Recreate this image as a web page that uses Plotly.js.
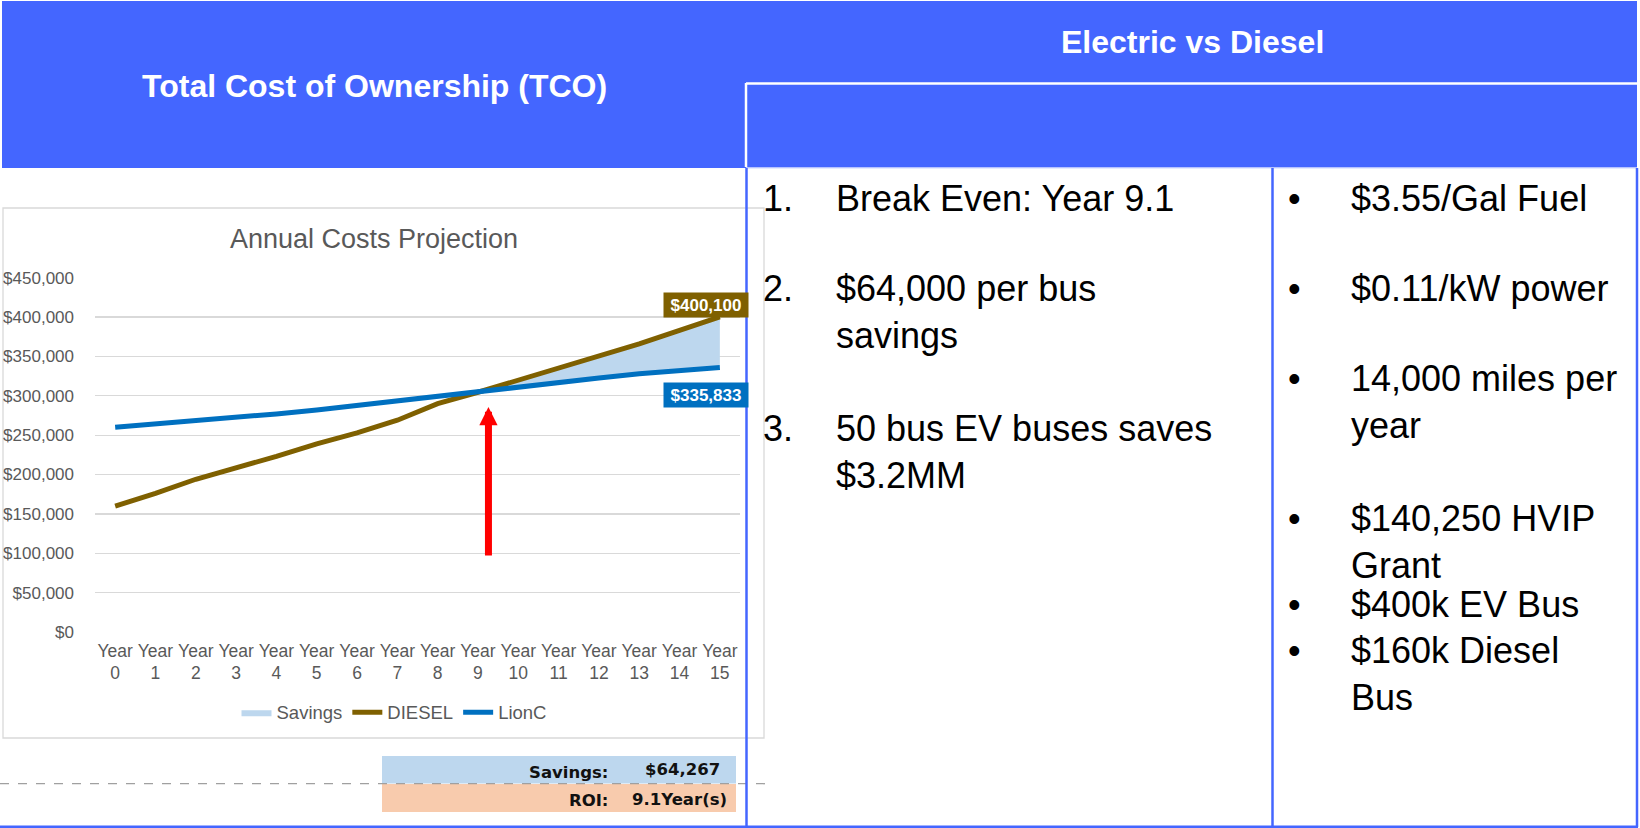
<!DOCTYPE html>
<html>
<head>
<meta charset="utf-8">
<script src="https://cdn.plot.ly/plotly-3.0.1.min.js"></script>
<style>
html,body{margin:0;padding:0;background:#ffffff;}
#chart{width:1640px;height:828px;}
</style>
</head>
<body>
<div id="chart"></div>
<script>
// ---------------- data ----------------
const years = ['Year 0','Year 1','Year 2','Year 3','Year 4','Year 5','Year 6','Year 7',
               'Year 8','Year 9','Year 10','Year 11','Year 12','Year 13','Year 14','Year 15'];
const diesel = [160000,176000,194000,208000,223000,239000,253000,269000,
                290000,304500,320000,336000,350000,366000,383000,400100];
const lionC  = [260000,264000,269000,273000,277000,282000,288000,293000,
                299000,305500,311000,316500,322500,328000,332000,335833];
const yTickValues = [0,50000,100000,150000,200000,250000,300000,350000,400000,450000];
const seriesNames = ['Savings','DIESEL','LionC'];
const chartTitle = 'Annual Costs Projection';
const leftHeader = 'Total Cost of Ownership (TCO)';
const rightHeader = 'Electric vs Diesel';
const roiYears = 9.1;
const numberedItems = ['Break Even: Year 9.1', '$64,000 per bus<br>savings', '50 bus EV buses saves<br>$3.2MM'];
const bulletItems = ['$3.55/Gal Fuel', '$0.11/kW power', '14,000 miles per<br>year',
                     '$140,250 HVIP<br>Grant', '$400k EV Bus', '$160k Diesel<br>Bus'];

// ---------------- helpers ----------------
const W = 1640, H = 828;
const X = p => p / W;
const Y = p => 1 - p / H;
const money = v => '$' + Math.round(v).toLocaleString('en-US');

const xIdx = years.map((_, i) => i);
const tickText = years.map(s => s.replace(' ', '<br>'));

// savings band: from last index where diesel <= lionC
let start = 0;
diesel.forEach((d, i) => { if (d <= lionC[i]) start = i; });
const sx = xIdx.slice(start);
const sLow = lionC.slice(start);
const sHigh = sx.map(i => Math.max(diesel[i], lionC[i]));
const last = years.length - 1;
const savingsValue = diesel[last] - lionC[last];

const BLUE = '#4466FF';
const FONT = 'Liberation Sans, Arial, sans-serif';
const GRAY = '#595959';

const traces = [
  {x: sx, y: sLow, type: 'scatter', mode: 'lines', line: {width: 0, color: '#BDD7EE'},
   showlegend: false, hoverinfo: 'skip'},
  {x: sx, y: sHigh, type: 'scatter', mode: 'lines', fill: 'tonexty', fillcolor: '#BDD7EE',
   line: {width: 0, color: '#BDD7EE'}, name: seriesNames[0]},
  {x: xIdx, y: diesel, type: 'scatter', mode: 'lines', name: seriesNames[1],
   line: {color: '#7F6000', width: 5}},
  {x: xIdx, y: lionC, type: 'scatter', mode: 'lines', name: seriesNames[2],
   line: {color: '#0070C0', width: 5}}
];

const shapes = [
  // header band
  {type: 'rect', xref: 'paper', yref: 'paper', x0: X(2), x1: X(1637), y0: Y(168), y1: Y(1),
   fillcolor: BLUE, line: {width: 0}, layer: 'below'},
  {type: 'line', xref: 'paper', yref: 'paper', x0: X(746), x1: X(1637), y0: Y(83.5), y1: Y(83.5),
   line: {color: '#ffffff', width: 2.5}},
  {type: 'line', xref: 'paper', yref: 'paper', x0: X(746), x1: X(746), y0: Y(83), y1: Y(167),
   line: {color: '#ffffff', width: 2.5}},
  {type: 'line', xref: 'paper', yref: 'paper', x0: X(746), x1: X(1637), y0: Y(168), y1: Y(168),
   line: {color: '#DCE3FF', width: 1.5}},
  // chart area border
  {type: 'rect', xref: 'paper', yref: 'paper', x0: X(3), x1: X(764), y0: Y(738), y1: Y(208),
   line: {color: '#D9D9D9', width: 1.3}, layer: 'below'},
  // savings / ROI boxes
  {type: 'rect', xref: 'paper', yref: 'paper', x0: X(382), x1: X(736), y0: Y(783.5), y1: Y(756),
   fillcolor: '#BDD7EE', line: {width: 0}},
  {type: 'rect', xref: 'paper', yref: 'paper', x0: X(382), x1: X(736), y0: Y(812), y1: Y(784),
   fillcolor: '#F8CBAD', line: {width: 0}},
  {type: 'line', xref: 'paper', yref: 'paper', x0: X(0), x1: X(770), y0: Y(783.7), y1: Y(783.7),
   line: {color: '#A0A0A0', width: 1.3, dash: 'dash'}},
  // table borders
  {type: 'line', xref: 'paper', yref: 'paper', x0: X(746.5), x1: X(746.5), y0: Y(168), y1: Y(827),
   line: {color: BLUE, width: 2.5}},
  {type: 'line', xref: 'paper', yref: 'paper', x0: X(1272.5), x1: X(1272.5), y0: Y(168), y1: Y(827),
   line: {color: BLUE, width: 2.5}},
  {type: 'line', xref: 'paper', yref: 'paper', x0: X(1637), x1: X(1637), y0: Y(168), y1: Y(827),
   line: {color: BLUE, width: 2.5}},
  {type: 'line', xref: 'paper', yref: 'paper', x0: X(0), x1: X(1638), y0: Y(826.7), y1: Y(826.7),
   line: {color: BLUE, width: 2.5}}
];

const annotations = [
  {xref: 'paper', yref: 'paper', x: X(374), y: Y(85.5), text: leftHeader, showarrow: false,
   font: {family: FONT, size: 32, color: '#ffffff', weight: 'bold'}, xanchor: 'center', yanchor: 'middle'},
  {xref: 'paper', yref: 'paper', x: X(1192), y: Y(42), text: rightHeader, showarrow: false,
   font: {family: FONT, size: 32, color: '#ffffff', weight: 'bold'}, xanchor: 'center', yanchor: 'middle'},
  // data labels
  {x: last, y: diesel[last], text: money(diesel[last]), showarrow: false, xshift: -14, yshift: 12.3,
   bgcolor: '#7F6000', borderpad: 2, width: 80, height: 20,
   font: {family: FONT, size: 17, color: '#ffffff', weight: 'bold'}},
  {x: last, y: lionC[last], text: money(lionC[last]), showarrow: false, xshift: -14, yshift: -27.7,
   bgcolor: '#0070C0', borderpad: 2, width: 80, height: 20,
   font: {family: FONT, size: 17, color: '#ffffff', weight: 'bold'}},
  // red arrow marking break-even
  {x: 9.26, y: 285700, ax: 0, ay: 150, text: '', showarrow: true, arrowhead: 2, arrowsize: 0.52,
   arrowwidth: 7, arrowcolor: '#FF0000'},
  // savings / roi text
  {xref: 'paper', yref: 'paper', x: X(610), y: Y(772), text: 'Savings:', showarrow: false,
   xanchor: 'right', yanchor: 'middle', font: {family: 'DejaVu Sans, sans-serif', size: 16.5, color: '#111', weight: 'bold'}},
  {xref: 'paper', yref: 'paper', x: X(722), y: Y(769.5), text: money(savingsValue), showarrow: false,
   xanchor: 'right', yanchor: 'middle', font: {family: 'DejaVu Sans, sans-serif', size: 16.5, color: '#111', weight: 'bold'}},
  {xref: 'paper', yref: 'paper', x: X(610), y: Y(800), text: 'ROI:', showarrow: false,
   xanchor: 'right', yanchor: 'middle', font: {family: 'DejaVu Sans, sans-serif', size: 16.5, color: '#111', weight: 'bold'}},
  {xref: 'paper', yref: 'paper', x: X(729), y: Y(799), text: roiYears + 'Year(s)', showarrow: false,
   xanchor: 'right', yanchor: 'middle', font: {family: 'DejaVu Sans, sans-serif', size: 16.5, color: '#111', weight: 'bold'}}
];

// right panel text
const numY = [198.7, 288.7, 428.8];
numberedItems.forEach((t, i) => {
  const lines = t.split('<br>').length;
  const cy = numY[i] + (lines - 1) * 23.4;
  annotations.push({xref: 'paper', yref: 'paper', x: X(761), y: Y(numY[i]), text: (i + 1) + '.',
    showarrow: false, xanchor: 'left', yanchor: 'middle', font: {family: FONT, size: 36, color: '#000'}});
  annotations.push({xref: 'paper', yref: 'paper', x: X(833.6), y: Y(cy), text: t, align: 'left',
    showarrow: false, xanchor: 'left', yanchor: 'middle', font: {family: FONT, size: 36, color: '#000'}});
});
const bulY = [198.7, 288.7, 378.6, 518.8, 604.5, 650.5];
bulletItems.forEach((t, i) => {
  const lines = t.split('<br>').length;
  const cy = bulY[i] + (lines - 1) * 23.4;
  annotations.push({xref: 'paper', yref: 'paper', x: X(1294), y: Y(bulY[i]), text: '•',
    showarrow: false, xanchor: 'center', yanchor: 'middle', font: {family: FONT, size: 36, color: '#000'}});
  annotations.push({xref: 'paper', yref: 'paper', x: X(1349), y: Y(cy), text: t, align: 'left',
    showarrow: false, xanchor: 'left', yanchor: 'middle', font: {family: FONT, size: 36, color: '#000'}});
});

const layout = {
  width: W, height: H,
  margin: {l: 0, r: 0, t: 0, b: 0, pad: 0},
  paper_bgcolor: '#ffffff', plot_bgcolor: 'rgba(0,0,0,0)',
  font: {family: FONT, color: GRAY},
  title: {text: chartTitle, font: {family: FONT, size: 27, color: GRAY},
          x: X(374), y: Y(238.5), xref: 'paper', yref: 'container', xanchor: 'center', yanchor: 'middle'},
  showlegend: true,
  legend: {orientation: 'h', x: X(394), y: Y(712.7), xanchor: 'center', yanchor: 'middle',
           font: {family: FONT, size: 18.5, color: GRAY}, bgcolor: 'rgba(0,0,0,0)', itemwidth: 30,
           traceorder: 'normal'},
  xaxis: {domain: [X(95), X(740)], range: [-0.5, 15.5], tickvals: xIdx, ticktext: tickText,
          showgrid: false, zeroline: false, showline: false, ticks: '', fixedrange: true,
          tickfont: {family: FONT, size: 17.5, color: GRAY}, ticklabelstandoff: 6},
  yaxis: {domain: [Y(632), Y(277.7)], range: [0, 450000], tickvals: yTickValues,
          ticktext: yTickValues.map(money), showgrid: true, gridcolor: '#D9D9D9', gridwidth: 1.3,
          zeroline: false, showline: false, ticks: '', fixedrange: true, ticklabelstandoff: 20,
          tickfont: {family: FONT, size: 17, color: GRAY}},
  shapes: shapes,
  annotations: annotations,
  hovermode: false
};

Plotly.newPlot('chart', traces, layout, {displayModeBar: false, staticPlot: true});
</script>
</body>
</html>
